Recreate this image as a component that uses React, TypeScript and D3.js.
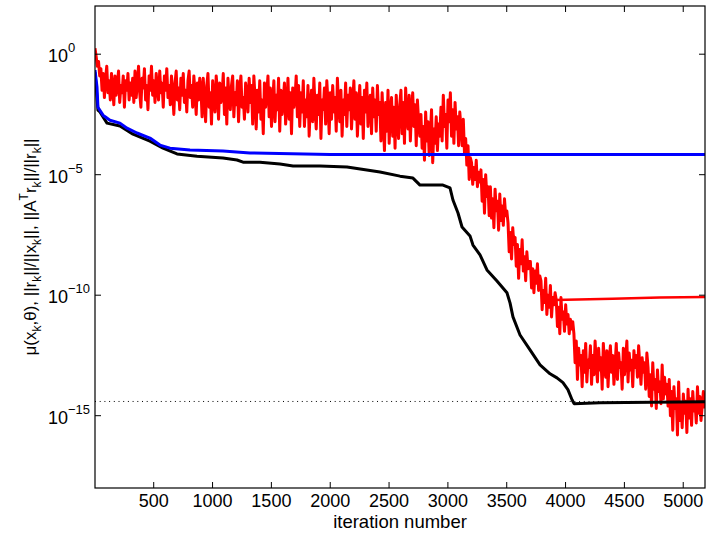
import React from 'react';
import * as d3 from 'd3';

const W = 706;
const H = 533;
const PL = 95, PR = 705, PT = 6, PB = 488;

const xTicks = [500, 1000, 1500, 2000, 2500, 3000, 3500, 4000, 4500, 5000];
const yTickExps = [0, -5, -10, -15];
const xDomain = [1, 5185];
const yDomain = [1e-18, 1e2];

// blue: mu(x_k, theta)  (log10 values)
const blueIter = [1, 18, 26, 69, 128, 213, 273, 358, 468, 553, 638, 808, 1089, 1318, 1998, 5185];
const blueLog = [-0.66, -1.37, -2.2, -2.53, -2.74, -2.86, -3.07, -3.27, -3.48, -3.77, -3.9, -3.98, -4.02, -4.1, -4.16, -4.16];

// black (log10 values)
const blackIter = [1, 26, 43, 103, 213, 324, 468, 579, 698, 868, 1089, 1208, 1259, 1403, 1573, 1684, 1913, 2143, 2423, 2593, 2703, 2763, 2958, 3018, 3043, 3086, 3120, 3188, 3213, 3273, 3332, 3417, 3502, 3528, 3553, 3613, 3698, 3783, 3868, 3927, 3978, 4020, 4055, 4072, 4293, 5185];
const blackLog = [-0.75, -2.32, -2.4, -2.86, -2.98, -3.32, -3.61, -3.9, -4.14, -4.23, -4.31, -4.39, -4.48, -4.48, -4.56, -4.64, -4.64, -4.68, -4.89, -5.06, -5.14, -5.43, -5.43, -5.55, -6.05, -6.59, -7.17, -7.54, -7.92, -8.33, -8.95, -9.41, -9.9, -10.32, -10.9, -11.65, -12.27, -12.89, -13.26, -13.43, -13.63, -13.92, -14.34, -14.5, -14.46, -14.42];

// red noisy series, sampled every 10 iterations starting at iteration 1 (log10 values)
const redStep = 10;
const redLog = [
  0.25, -0.1, -0.5, -0.3, -0.9,
  -0.6, -1.5, -0.8, -1.8, -1.0, -0.5, -1.6, -1.1,
  -1.9, -0.8, -1.4, -2.1, -0.9, -1.7, -1.2, -0.7, -2.0, -1.3, -1.6, -0.9, -2.2, -1.1, -1.5, -0.8, -1.9, -1.2, -1.7, -1.0, -2.0,
  -0.7, -1.8, -1.2, -0.5, -1.6, -2.2, -1.0, -1.4, -0.6, -1.9, -1.3, -2.3, -0.9, -1.5, -0.5, -1.7, -1.1, -2.0, -0.8, -1.4, -1.9, -0.7, -1.6, -1.2, -2.2, -0.9, -1.5, -0.6, -1.8, -1.3,
  -2.1, -0.9, -1.6, -2.5, -1.2, -0.7, -1.9, -1.4, -2.3, -1.0, -1.7, -0.8, -2.0, -1.5, -2.4, -1.1, -0.7, -1.8, -1.3, -2.2, -0.9, -1.6, -2.5, -1.2, -1.9, -1.0,
  -1.4, -2.6, -1.0, -1.9, -2.8, -1.3, -0.8, -2.2, -1.6, -2.9, -1.1, -1.8, -2.4, -0.9, -1.5, -2.7, -1.2, -2.0, -1.7, -0.8, -2.5, -1.4, -2.9, -1.0, -1.9, -2.3, -1.3, -0.9, -2.6, -1.6, -2.1, -1.1, -2.8, -1.5, -0.9, -2.2, -1.8, -2.7, -1.2, -1.6, -2.4, -1.0,
  -2.0, -1.3, -2.9, -0.9, -1.8, -3.1, -1.5, -2.4, -1.1, -2.7, -1.9, -3.3, -1.2, -2.2, -1.6, -0.9, -2.6, -1.4, -3.0, -2.0, -1.1, -2.8, -1.7, -2.3, -1.0, -3.2, -1.5, -2.5, -1.9, -1.2, -2.9, -2.1, -1.0, -2.7, -1.6, -3.3, -1.4, -2.2, -1.8, -0.9, -2.6, -1.3, -3.0,
  -1.6, -2.4, -1.1, -3.0, -1.9, -2.6, -1.3, -3.4, -2.1, -1.5, -2.8, -1.0, -2.2, -3.1, -1.7, -2.5, -1.2, -3.5, -1.9, -2.3, -1.4, -2.9, -1.1, -2.0, -3.3, -1.6, -2.7, -1.3, -2.4, -1.8, -3.2, -1.0, -2.1, -2.8, -1.5, -3.4, -1.9, -2.5, -1.2, -3.0, -1.7, -2.3,
  -1.4, -3.1, -2.0, -1.1, -2.7, -1.6, -3.4, -2.2, -1.3, -2.9, -1.8, -3.5, -1.5, -2.4, -1.2, -3.0, -2.1, -1.7, -3.3, -1.4, -2.6, -1.9, -3.2, -1.3, -2.5, -2.0,
  -3.6, -1.6, -2.8, -4.0, -2.0, -3.2, -1.5, -3.7, -2.4, -1.8, -3.4, -2.2, -3.9, -1.7, -2.9, -3.5, -2.1,
  -1.5, -3.3, -2.0, -3.7, -1.4, -2.6, -3.1, -1.7, -3.6, -2.3, -1.6, -3.0, -2.1, -3.8, -1.9, -2.8, -3.4,
  -2.5, -3.9, -3.0, -4.4, -2.4, -3.6, -2.8, -4.2, -3.3, -2.3, -4.5, -3.1, -3.7, -2.6, -4.0, -2.9, -3.4,
  -2.2, -3.6, -1.7, -3.0, -2.5, -3.9, -1.9, -2.8, -1.6, -3.4, -2.3, -3.7, -2.0, -3.1, -2.6, -3.8, -2.4,
  -3.0, -3.8, -2.7, -4.1, -3.5, -4.6, -3.8, -5.2, -4.3,
  -4.5, -5.4, -4.7, -5.2, -4.4, -5.5, -4.9, -5.3,
  -4.8, -6.1, -5.2, -6.6, -5.0, -5.9, -5.5, -6.7,
  -5.5, -6.8, -6.0, -7.2, -5.6, -6.5, -6.1, -7.3, -5.8, -6.9, -6.3, -7.1, -6.0, -6.7, -6.5,
  -7.0, -8.2, -7.4, -8.5, -7.2, -7.9,
  -7.6, -8.8, -7.9, -9.3, -8.1, -8.7, -7.7, -9.0, -8.4, -9.4, -8.2, -8.9, -8.6,
  -8.6, -9.7, -8.9, -9.9, -9.0, -9.5, -8.7, -9.8, -9.2,
  -9.4, -10.6, -9.8, -10.3, -9.3, -10.8, -10.0, -10.5, -9.6, -10.9, -10.1, -10.4, -9.9,
  -10.2, -11.3, -10.5, -11.6, -10.1, -11.0, -10.7, -11.5, -10.4, -11.2, -10.8, -11.6, -11.0, -11.4, -11.1,
  -11.6, -12.8, -11.9, -13.5, -12.2, -12.9, -12.5, -13.8, -12.3, -13.2, -12.0, -13.6, -12.7,
  -13.0, -12.1, -13.7, -12.5, -13.3, -11.9, -12.8, -13.6, -12.2, -13.1, -12.6, -13.9, -12.0, -12.9, -13.4, -12.3, -13.8, -12.7, -12.1, -13.2, -12.5, -13.7, -12.9, -12.0, -13.5, -12.4, -13.0, -12.8, -13.9, -12.2, -13.3, -12.6, -11.9, -13.6, -12.4, -13.1, -12.7, -13.8, -12.3, -13.0, -12.5, -13.4, -12.1, -12.9, -13.7, -12.6, -13.2, -12.8, -13.9, -12.4,
  -13.0, -14.2, -13.3, -14.6, -12.8, -13.9, -13.5, -14.7, -13.1, -14.0, -13.6, -14.5, -12.9, -14.3, -13.4, -14.1, -13.7, -14.6,
  -13.5, -15.0, -14.0, -15.6, -13.8, -14.7, -14.3, -15.8, -13.6, -15.2, -14.5, -15.5, -14.1, -14.9, -14.4, -15.7,
  -13.9, -15.1, -14.3, -15.4, -14.0, -14.8, -14.5, -15.3, -13.8, -14.9, -14.2, -15.2, -14.6, -14.0, -14.7,
];

// red flat branch (log10 values)
const redFlatIter = [3910, 4400, 4800, 5185];
const redFlatLog = [-10.2, -10.15, -10.1, -10.07];

// dotted reference level
const dottedLevel = 3.9e-15;

const FONT = "'Liberation Sans', Arial, Helvetica, sans-serif";

export default function App() {
  const x = d3.scaleLinear().domain(xDomain).range([PL, PR]);
  const y = d3.scaleLog().domain(yDomain).range([PB, PT]);
  const line = d3
    .line<[number, number]>()
    .x((d) => x(d[0]))
    .y((d) => y(d[1]));

  const toPts = (it: number[], lg: number[]) =>
    it.map((v, i) => [v, Math.pow(10, lg[i])] as [number, number]);

  const redPts = redLog.map((v, i) => [1 + i * redStep, Math.pow(10, v)] as [number, number]);
  const bluePts = toPts(blueIter, blueLog);
  const blackPts = toPts(blackIter, blackLog);
  const redFlatPts = toPts(redFlatIter, redFlatLog);

  const tickLen = 6;

  return (
    <div style={{ position: 'fixed', left: 0, top: 0 }}>
      <svg width={W} height={H} style={{ display: 'block', background: '#fff' }}>
        <defs>
          <clipPath id="plotClip">
            <rect x={PL} y={PT} width={PR - PL} height={PB - PT} />
          </clipPath>
        </defs>
        <rect x={0} y={0} width={W} height={H} fill="#fff" />
        <g clipPath="url(#plotClip)" fill="none" strokeLinejoin="round">
          <path d={line(redPts) || ''} stroke="#ff0000" strokeWidth={3} />
          <path d={line(redFlatPts) || ''} stroke="#ff0000" strokeWidth={2.5} />
          <line
            x1={PL}
            x2={PR}
            y1={y(dottedLevel)}
            y2={y(dottedLevel)}
            stroke="#000"
            strokeWidth={1}
            strokeDasharray="1 3.7"
          />
          <path d={line(blackPts) || ''} stroke="#000" strokeWidth={3} />
          <path d={line(bluePts) || ''} stroke="#0000ff" strokeWidth={3} />
        </g>
        {/* axes box */}
        <rect x={PL} y={PT} width={PR - PL} height={PB - PT} fill="none" stroke="#000" strokeWidth={1.2} />
        {/* x ticks */}
        {xTicks.map((t) => (
          <g key={'x' + t}>
            <line x1={x(t)} x2={x(t)} y1={PB} y2={PB - tickLen} stroke="#000" strokeWidth={1} />
            <line x1={x(t)} x2={x(t)} y1={PT} y2={PT + tickLen} stroke="#000" strokeWidth={1} />
            <text x={x(t)} y={507} textAnchor="middle" fontFamily={FONT} fontSize={18} fill="#000">
              {t}
            </text>
          </g>
        ))}
        {/* y ticks */}
        {yTickExps.map((e) => {
          const yy = y(Math.pow(10, e));
          return (
            <g key={'y' + e}>
              <line x1={PL} x2={PL + tickLen} y1={yy} y2={yy} stroke="#000" strokeWidth={1} />
              <line x1={PR} x2={PR - tickLen} y1={yy} y2={yy} stroke="#000" strokeWidth={1} />
              <text x={48} y={yy + 8} fontFamily={FONT} fontSize={18} fill="#000">
                10
                <tspan dy={-10} fontSize={13}>
                  {e === 0 ? '0' : '\u2212' + Math.abs(e)}
                </tspan>
              </text>
            </g>
          );
        })}
        {/* x label */}
        <text x={(PL + PR) / 2} y={528} textAnchor="middle" fontFamily={FONT} fontSize={18.5} fill="#000">
          iteration number
        </text>
        {/* y label */}
        <text
          transform={`translate(36,${(PT + PB) / 2}) rotate(-90)`}
          textAnchor="middle"
          fontFamily={FONT}
          fontSize={17}
          fill="#000"
        >
          μ(x<tspan dy={5} fontSize={12}>k</tspan>
          <tspan dy={-5}>,θ), ||r</tspan>
          <tspan dy={5} fontSize={12}>k</tspan>
          <tspan dy={-5}>||/||x</tspan>
          <tspan dy={5} fontSize={12}>k</tspan>
          <tspan dy={-5}>||, ||A</tspan>
          <tspan dy={-8} fontSize={12}>T</tspan>
          <tspan dy={8}>r</tspan>
          <tspan dy={5} fontSize={12}>k</tspan>
          <tspan dy={-5}>||/||r</tspan>
          <tspan dy={5} fontSize={12}>k</tspan>
          <tspan dy={-5}>||</tspan>
        </text>
      </svg>
    </div>
  );
}
